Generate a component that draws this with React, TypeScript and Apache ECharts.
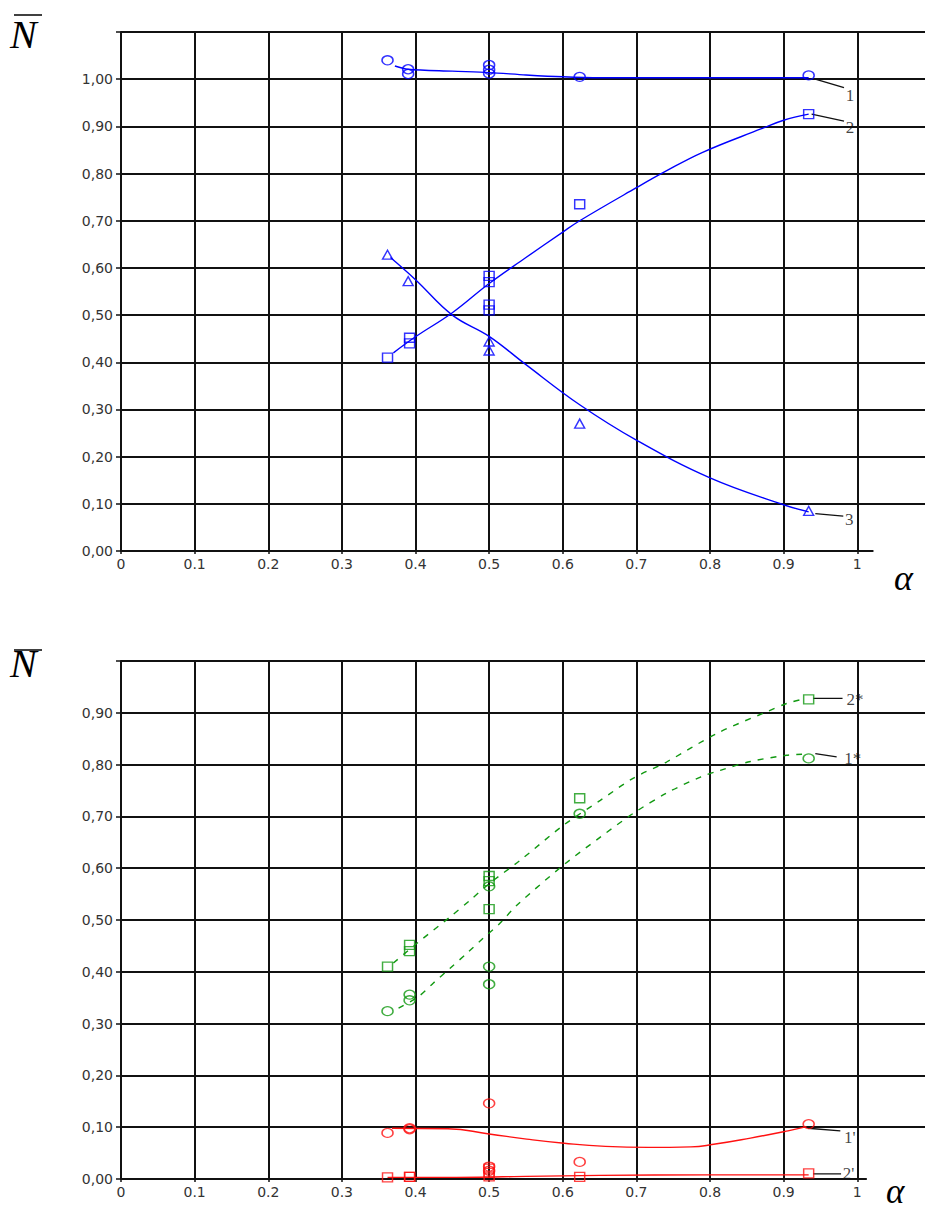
import React, { useEffect, useRef } from "react";
import * as echarts from "echarts";

const BLUE = "#0000ff";
const GREEN = "#119911";
const RED = "#ff1111";

// ---------- top chart ----------
const xTicks = [0, 0.1, 0.2, 0.3, 0.4, 0.5, 0.6, 0.7, 0.8, 0.9, 1];

const top1PtsX = [0.362, 0.39, 0.39, 0.5, 0.5, 0.5, 0.623, 0.934];
const top1PtsY = [1.04, 1.021, 1.011, 1.03, 1.02, 1.012, 1.005, 1.008];
const top1FitX = [0.372, 0.39, 0.45, 0.5, 0.55, 0.6, 0.65, 0.75, 0.85, 0.934];
const top1FitY = [1.028, 1.021, 1.017, 1.014, 1.009, 1.005, 1.003, 1.003, 1.003, 1.003];

const top2PtsX = [0.362, 0.392, 0.392, 0.5, 0.5, 0.5, 0.5, 0.623, 0.934];
const top2PtsY = [0.41, 0.44, 0.452, 0.57, 0.583, 0.51, 0.522, 0.735, 0.926];
const top2FitX = [0.37, 0.4, 0.45, 0.5, 0.55, 0.6, 0.623, 0.7, 0.74, 0.79, 0.87, 0.9, 0.934];
const top2FitY = [0.42, 0.454, 0.505, 0.567, 0.622, 0.676, 0.7, 0.77, 0.805, 0.845, 0.895, 0.913, 0.926];

const top3PtsX = [0.362, 0.39, 0.5, 0.5, 0.623, 0.934];
const top3PtsY = [0.628, 0.572, 0.444, 0.425, 0.27, 0.085];
const top3FitX = [0.366, 0.4, 0.45, 0.5, 0.55, 0.623, 0.7, 0.8, 0.9, 0.934];
const top3FitY = [0.622, 0.575, 0.5, 0.455, 0.395, 0.31, 0.235, 0.155, 0.098, 0.083];

const topLeadX = [[0.943, 0.982], [0.938, 0.982], [0.943, 0.981]];
const topLeadY = [[1.0, 0.982], [0.926, 0.911], [0.079, 0.074]];
const topLabelNames = ["1", "2", "3"];
const topLabelX = [0.99, 0.99, 0.989];
const topLabelY = [0.966, 0.898, 0.066];

// ---------- bottom chart ----------
const g2PtsX = [0.362, 0.392, 0.392, 0.5, 0.5, 0.5, 0.623, 0.934];
const g2PtsY = [0.41, 0.44, 0.452, 0.521, 0.575, 0.585, 0.735, 0.926];
const g1PtsX = [0.362, 0.392, 0.392, 0.5, 0.5, 0.5, 0.623, 0.934];
const g1PtsY = [0.324, 0.345, 0.356, 0.376, 0.41, 0.565, 0.705, 0.812];

const g2FitX = [0.37, 0.402, 0.447, 0.474, 0.5, 0.542, 0.601, 0.651, 0.696, 0.741, 0.809, 0.877, 0.904, 0.925];
const g2FitY = [0.417, 0.455, 0.506, 0.538, 0.57, 0.615, 0.683, 0.731, 0.774, 0.805, 0.86, 0.902, 0.918, 0.926];
const g1FitX = [0.377, 0.403, 0.424, 0.447, 0.47, 0.492, 0.515, 0.538, 0.601, 0.651, 0.696, 0.741, 0.787, 0.814, 0.855, 0.904, 0.925];
const g1FitY = [0.33, 0.351, 0.378, 0.407, 0.436, 0.465, 0.494, 0.529, 0.606, 0.66, 0.706, 0.745, 0.776, 0.789, 0.806, 0.818, 0.82];

const r1PtsX = [0.362, 0.392, 0.392, 0.5, 0.5, 0.5, 0.623, 0.934];
const r1PtsY = [0.089, 0.096, 0.098, 0.146, 0.024, 0.016, 0.033, 0.106];
const r2PtsX = [0.362, 0.392, 0.392, 0.5, 0.5, 0.5, 0.623, 0.934];
const r2PtsY = [0.003, 0.004, 0.004, 0.005, 0.012, 0.02, 0.004, 0.011];

const r1FitX = [0.368, 0.444, 0.5, 0.551, 0.602, 0.658, 0.716, 0.774, 0.805, 0.855, 0.906, 0.931];
const r1FitY = [0.098, 0.097, 0.087, 0.077, 0.069, 0.063, 0.061, 0.062, 0.067, 0.079, 0.093, 0.101];
const r2FitX = [0.362, 0.45, 0.55, 0.65, 0.8, 0.934];
const r2FitY = [0.003, 0.003, 0.005, 0.007, 0.008, 0.008];

const botLeadX = [[0.94, 0.98], [0.943, 0.972], [0.933, 0.977], [0.94, 0.978]];
const botLeadY = [[0.928, 0.928], [0.821, 0.815], [0.098, 0.093], [0.01, 0.01]];
const botLabelNames = ["2*", "1*", "1'", "2'"];
const botLabelX = [0.997, 0.994, 0.99, 0.988];
const botLabelY = [0.926, 0.812, 0.081, 0.011];

const pairs = (xs: number[], ys: number[]) => xs.map((x, i) => [x, ys[i]]);

const scatterS = (g: number, xs: number[], ys: number[], symbol: string, size: any, color: string) => ({
  type: "scatter",
  xAxisIndex: g,
  yAxisIndex: g,
  data: pairs(xs, ys),
  symbol,
  symbolSize: size,
  silent: true,
  z: 5,
  itemStyle: { color: "rgba(255,255,255,0)", borderColor: color, borderWidth: 1.4 },
});

const lineS = (g: number, xs: number[], ys: number[], color: string, dashed: boolean, smooth: any, extra: any = {}) => ({
  type: "line",
  xAxisIndex: g,
  yAxisIndex: g,
  data: pairs(xs, ys),
  showSymbol: false,
  symbol: "none",
  smooth,
  silent: true,
  z: 4,
  lineStyle: { color, width: 1.4, type: dashed ? [6, 7] : "solid" },
  ...extra,
});

const labelS = (g: number, names: string[], xs: number[], ys: number[]) => ({
  type: "scatter",
  xAxisIndex: g,
  yAxisIndex: g,
  clip: false,
  silent: true,
  symbolSize: 1,
  itemStyle: { color: "rgba(0,0,0,0)" },
  data: names.map((n, i) => ({ name: n, value: [xs[i], ys[i]] })),
  label: {
    show: true,
    position: "inside",
    formatter: "{b}",
    fontFamily: "Liberation Serif",
    fontSize: 17,
    color: "#111",
  },
  z: 6,
});

const axisLineMark = (end: number) => ({
  silent: true,
  symbol: ["none", "none"],
  label: { show: false },
  lineStyle: { color: "#111", width: 2, type: "solid" },
  data: [[{ coord: [0, 0] }, { coord: [end, 0] }]],
});

const xAxisCfg = (g: number) => ({
  type: "value",
  gridIndex: g,
  min: 0,
  max: 1.092,
  interval: 0.1,
  axisLine: { show: false },
  axisTick: { show: true, length: 3, lineStyle: { color: "#111", width: 1.5 } },
  axisLabel: {
    fontFamily: "DejaVu Sans",
    fontSize: 14,
    color: "#333",
    margin: 6,
    showMaxLabel: false,
    formatter: (v: number) => (v > 1.0001 ? "" : String(Math.round(v * 10) / 10)),
  },
  splitLine: { show: true, showMaxLine: false, lineStyle: { color: "#111", width: 2 } },
});

const yAxisCfg = (g: number, max: number) => ({
  type: "value",
  gridIndex: g,
  min: 0,
  max,
  interval: 0.1,
  axisLine: { show: true, lineStyle: { color: "#111", width: 2 } },
  axisTick: { show: true, length: 5, lineStyle: { color: "#111", width: 1.5 } },
  axisLabel: {
    fontFamily: "DejaVu Sans",
    fontSize: 14,
    color: "#333",
    margin: 8,
    formatter: (v: number) => (v > max - 0.0001 ? "" : v.toFixed(2).replace(".", ",")),
  },
  splitLine: { show: true, showMinLine: false, lineStyle: { color: "#111", width: 2 } },
});

export default function App() {
  const ref = useRef<HTMLDivElement>(null);
  useEffect(() => {
    document.body.style.margin = "0";
    const chart = echarts.init(ref.current!, null, { renderer: "svg" });
    const serif = "Liberation Serif";
    const series: any[] = [
      // top
      lineS(0, top1FitX, top1FitY, BLUE, false, 0.3, { markLine: axisLineMark(1.022) }),
      lineS(0, top2FitX, top2FitY, BLUE, false, 0.4),
      lineS(0, top3FitX, top3FitY, BLUE, false, 0.4),
      scatterS(0, top1PtsX, top1PtsY, "circle", [11, 9], BLUE),
      scatterS(0, top2PtsX, top2PtsY, "rect", [10, 9], BLUE),
      scatterS(0, top3PtsX, top3PtsY, "triangle", [10, 9], BLUE),
      ...topLeadX.map((lx, i) => lineS(0, lx, topLeadY[i], "#111", false, false, { lineStyle: { color: "#111", width: 1.3 } })),
      labelS(0, topLabelNames, topLabelX, topLabelY),
      // bottom
      lineS(1, g2FitX, g2FitY, GREEN, true, 0.3, { markLine: axisLineMark(1.013) }),
      lineS(1, g1FitX, g1FitY, GREEN, true, 0.3),
      lineS(1, r1FitX, r1FitY, RED, false, 0.5),
      lineS(1, r2FitX, r2FitY, RED, false, 0.3),
      scatterS(1, g2PtsX, g2PtsY, "rect", [10, 9], GREEN),
      scatterS(1, g1PtsX, g1PtsY, "circle", [11, 9], GREEN),
      scatterS(1, r1PtsX, r1PtsY, "circle", [11, 9], RED),
      scatterS(1, r2PtsX, r2PtsY, "rect", [10, 9], RED),
      ...botLeadX.map((lx, i) => lineS(1, lx, botLeadY[i], "#111", false, false, { lineStyle: { color: "#111", width: 1.3 } })),
      labelS(1, botLabelNames, botLabelX, botLabelY),
    ];
    chart.setOption({
      animation: false,
      backgroundColor: "#ffffff",
      grid: [
        { left: 121, top: 32, width: 804, height: 519 },
        { left: 121, top: 661, width: 804, height: 518 },
      ],
      xAxis: [xAxisCfg(0), xAxisCfg(1)],
      yAxis: [yAxisCfg(0, 1.1), yAxisCfg(1, 1.0)],
      graphic: [
        { type: "text", left: 10, top: 14, style: { text: "N", font: `italic 40px "${serif}"`, fill: "#000" } },
        { type: "line", shape: { x1: 14, y1: 15, x2: 42, y2: 15 }, style: { stroke: "#000", lineWidth: 1.5 } },
        { type: "text", left: 10, top: 643, style: { text: "N", font: `italic 40px "${serif}"`, fill: "#000" } },
        { type: "line", shape: { x1: 14, y1: 650, x2: 42, y2: 650 }, style: { stroke: "#000", lineWidth: 1.5 } },
        { type: "text", left: 894, top: 560, style: { text: "α", font: `italic 36px "${serif}"`, fill: "#000" } },
        { type: "text", left: 886, top: 1174, style: { text: "α", font: `italic 35px "${serif}"`, fill: "#000" } },
      ],
      series,
    });
    return () => chart.dispose();
  }, []);
  return <div ref={ref} style={{ width: 925, height: 1214 }} />;
}
